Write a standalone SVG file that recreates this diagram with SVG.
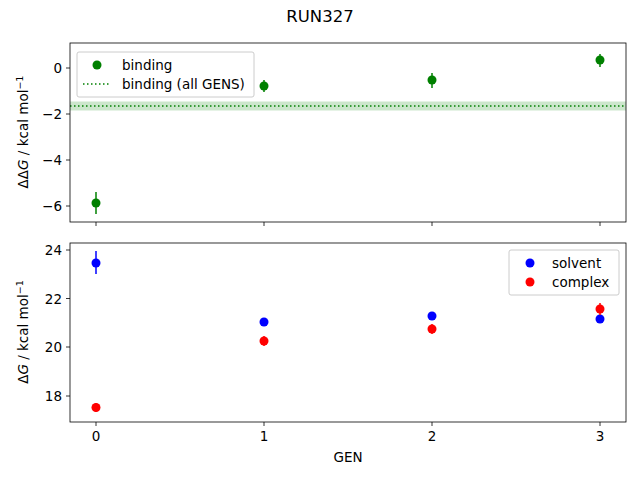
<svg xmlns="http://www.w3.org/2000/svg" width="640" height="480" viewBox="0 0 640 480">
<style>
text{font-family:"DejaVu Sans",sans-serif;font-size:13.5px;fill:#000}
.ax{fill:none;stroke:#000;stroke-width:0.8}
.tk{stroke:#000;stroke-width:0.8}
.g{fill:#008000}.gb{stroke:#008000;stroke-width:1.5}
.b{fill:#0000ff}.bb{stroke:#0000ff;stroke-width:1.5}
.r{fill:#ff0000}.rb{stroke:#ff0000;stroke-width:1.5}
</style>
<rect width="640" height="480" fill="#fff"/>
<text x="320" y="22" text-anchor="middle" style="font-size:16.5px">RUN327</text>
<g id="top">
<rect x="70" y="101.5" width="556" height="9" fill="#008000" fill-opacity="0.2"/>
<line x1="70" y1="106" x2="626" y2="106" stroke="#008000" stroke-width="1.5" stroke-dasharray="1.5,2.5"/>
<g class="gb"><line x1="96" y1="192" x2="96" y2="214"/><line x1="264" y1="80" x2="264" y2="92"/><line x1="432" y1="73" x2="432" y2="88"/><line x1="600" y1="54" x2="600" y2="67"/></g>
<g class="g"><circle cx="96" cy="203" r="4.5"/><circle cx="264" cy="86" r="4.5"/><circle cx="432" cy="80" r="4.5"/><circle cx="600" cy="60" r="4.5"/></g>
<rect class="ax" x="70" y="43" width="556" height="179"/>
<g class="tk"><line x1="66" y1="68" x2="70" y2="68"/><line x1="66" y1="114" x2="70" y2="114"/><line x1="66" y1="160" x2="70" y2="160"/><line x1="66" y1="206" x2="70" y2="206"/>
<line x1="96" y1="222" x2="96" y2="226"/><line x1="264" y1="222" x2="264" y2="226"/><line x1="432" y1="222" x2="432" y2="226"/><line x1="600" y1="222" x2="600" y2="226"/></g>
<g text-anchor="end"><text x="62" y="73">0</text><text x="62" y="119">−2</text><text x="62" y="165">−4</text><text x="62" y="211">−6</text></g>
<text transform="translate(28 132) rotate(-90)" text-anchor="middle">ΔΔ<tspan font-style="italic">G</tspan> / kcal mol<tspan dy="-5" style="font-size:9.5px">−1</tspan></text>
<g id="legend1"><rect x="77" y="52" width="177" height="45" rx="2" fill="#fff" fill-opacity="0.8" stroke="#ccc"/>
<circle class="g" cx="97" cy="65" r="4.5"/><text x="122" y="70">binding</text>
<line x1="83" y1="84" x2="111" y2="84" stroke="#008000" stroke-width="1.5" stroke-dasharray="1.5,2.5"/><text x="122" y="89">binding (all GENS)</text></g>
</g>
<g id="bottom">
<g class="bb"><line x1="96" y1="251" x2="96" y2="274"/><line x1="264" y1="319" x2="264" y2="325"/><line x1="432" y1="313" x2="432" y2="319"/><line x1="600" y1="316" x2="600" y2="322"/></g>
<g class="b"><circle cx="96" cy="263" r="4.5"/><circle cx="264" cy="322" r="4.5"/><circle cx="432" cy="316" r="4.5"/><circle cx="600" cy="319" r="4.5"/></g>
<g class="rb"><line x1="96" y1="403" x2="96" y2="412"/><line x1="264" y1="336" x2="264" y2="346"/><line x1="432" y1="324" x2="432" y2="334"/><line x1="600" y1="303" x2="600" y2="315"/></g>
<g class="r"><circle cx="96" cy="407.5" r="4.5"/><circle cx="264" cy="341" r="4.5"/><circle cx="432" cy="329" r="4.5"/><circle cx="600" cy="309" r="4.5"/></g>
<rect class="ax" x="70" y="243" width="556" height="179"/>
<g class="tk"><line x1="66" y1="250" x2="70" y2="250"/><line x1="66" y1="298.5" x2="70" y2="298.5"/><line x1="66" y1="347" x2="70" y2="347"/><line x1="66" y1="396" x2="70" y2="396"/>
<line x1="96" y1="422" x2="96" y2="426"/><line x1="264" y1="422" x2="264" y2="426"/><line x1="432" y1="422" x2="432" y2="426"/><line x1="600" y1="422" x2="600" y2="426"/></g>
<g text-anchor="end"><text x="62" y="255">24</text><text x="62" y="303.5">22</text><text x="62" y="352">20</text><text x="62" y="401">18</text></g>
<g text-anchor="middle"><text x="96" y="441">0</text><text x="264" y="441">1</text><text x="432" y="441">2</text><text x="600" y="441">3</text><text x="348" y="462">GEN</text></g>
<text transform="translate(28 332) rotate(-90)" text-anchor="middle">Δ<tspan font-style="italic">G</tspan> / kcal mol<tspan dy="-5" style="font-size:9.5px">−1</tspan></text>
<g id="legend2"><rect x="509" y="250" width="110" height="45" rx="2" fill="#fff" fill-opacity="0.8" stroke="#ccc"/>
<circle class="b" cx="530" cy="263" r="4.5"/><text x="552" y="268">solvent</text>
<circle class="r" cx="530" cy="282" r="4.5"/><text x="552" y="287">complex</text></g>
</g>
</svg>
